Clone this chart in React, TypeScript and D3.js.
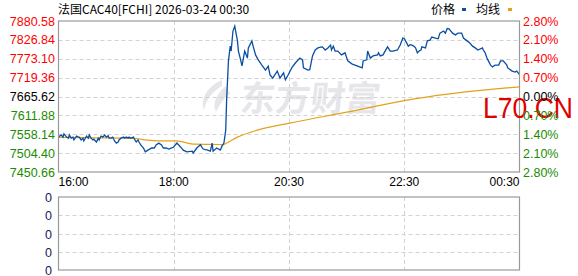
import React from "react";
import * as d3 from "d3";

const title = "法国CAC40[FCHI] 2026-03-24 00:30";
const prevClose = 7665.62;
const leftTicks = [7880.58, 7826.84, 7773.1, 7719.36, 7665.62, 7611.88, 7558.14, 7504.4, 7450.66];
const rightTicks = ["2.80%", "2.10%", "1.40%", "0.70%", "0.00%", "0.70%", "1.40%", "2.10%", "2.80%"];
const timeLabels = ["16:00", "18:00", "20:30", "22:30", "00:30"];
const timeLabelMinutes = [0, 127.5, 255, 382.5, 510];
const volumeLabels = ["0", "0", "0", "0", "0"];

// minutes since 16:00, price
const priceMinutes = [
  0, 3, 5, 6, 9, 11, 12, 14, 16, 17, 20, 22, 23, 25, 27, 28, 31, 33, 34, 36, 38, 39, 42, 44, 45, 47, 49, 51, 53, 55,
  56, 58, 60, 62, 64, 66, 67, 69, 72, 73, 75, 77, 78, 80, 83, 84, 86, 88, 89, 91, 94, 96, 99, 103, 106, 108, 111, 114,
  116, 119, 122, 124, 127, 131, 135, 138, 142, 148, 149, 153, 157, 160, 165, 168, 170, 171, 175, 179, 181, 183, 185,
  186, 188, 190, 191, 193, 195, 196, 198, 199, 201, 203, 204, 206, 209, 210, 214, 215, 218, 221, 225, 229, 232, 234,
  237, 242, 245, 249, 251, 254, 258, 262, 267, 270, 271, 276, 278, 281, 284, 287, 290, 292, 295, 298, 301, 302, 304,
  306, 309, 313, 317, 320, 325, 328, 331, 336, 337, 341, 342, 345, 348, 353, 354, 356, 359, 364, 367, 370, 375, 378,
  381, 383, 387, 389, 391, 393, 395, 397, 399, 401, 402, 406, 408, 411, 413, 417, 420, 422, 426, 428, 430, 432, 436,
  439, 442, 446, 448, 452, 455, 458, 461, 464, 469, 470, 472, 474, 475, 478, 480, 483, 487, 489, 492, 496, 497, 502,
  505, 507, 510,
];
const priceValues = [
  7550, 7556, 7550, 7559, 7550, 7547, 7556, 7547, 7550, 7542, 7553, 7550, 7550, 7542, 7547, 7539, 7553, 7547, 7556,
  7547, 7542, 7544, 7536, 7547, 7542, 7553, 7550, 7556, 7550, 7554, 7547, 7547, 7550, 7539, 7533, 7536, 7542, 7547,
  7550, 7547, 7550, 7547, 7550, 7547, 7550, 7544, 7536, 7542, 7536, 7528, 7519, 7508, 7513, 7519, 7519, 7528, 7533,
  7528, 7519, 7519, 7516, 7518, 7521, 7533, 7522, 7513, 7508, 7510, 7505, 7519, 7528, 7516, 7513, 7510, 7533, 7510,
  7519, 7513, 7525, 7533, 7570, 7656, 7767, 7809, 7795, 7852, 7866, 7852, 7824, 7795, 7775, 7753, 7767, 7795, 7775,
  7804, 7824, 7812, 7784, 7770, 7755, 7741, 7752, 7727, 7718, 7738, 7718, 7733, 7713, 7727, 7747, 7761, 7775, 7770,
  7747, 7741, 7742, 7781, 7798, 7804, 7806, 7807, 7798, 7804, 7812, 7798, 7809, 7795, 7795, 7784, 7790, 7767, 7758,
  7755, 7752, 7747, 7767, 7770, 7795, 7775, 7781, 7784, 7790, 7781, 7784, 7807, 7795, 7795, 7798, 7812, 7832, 7829,
  7809, 7813, 7812, 7809, 7804, 7790, 7795, 7798, 7807, 7804, 7824, 7826, 7835, 7832, 7830, 7846, 7852, 7846, 7859,
  7858, 7846, 7841, 7846, 7846, 7832, 7824, 7818, 7809, 7804, 7798, 7804, 7798, 7790, 7775, 7770, 7755, 7750, 7755,
  7755, 7767, 7767, 7755, 7747, 7738, 7735, 7738, 7728,
];

const avgMinutes = [0, 40, 86, 96, 112, 130, 151, 179, 182, 186, 198, 220, 256, 319, 392, 448, 510];
const avgValues = [7549, 7548, 7546, 7542, 7539, 7539, 7530, 7529, 7528, 7533, 7550, 7570, 7590, 7621, 7658, 7678, 7693];

const L = 58.5, R = 519.5, T = 21, B = 172;
const VT = 197, VB = 270;

export default function App() {
  const x = d3.scaleLinear().domain([0, 510]).range([L, R]);
  const y = d3.scaleLinear().domain([leftTicks[leftTicks.length - 1], leftTicks[0]]).range([B, T]);
  const vy = d3.scaleLinear().domain([0, 4]).range([VB, VT]);

  const priceData = priceMinutes.map((m, i) => [m, priceValues[i]] as [number, number]);
  const avgData = avgMinutes.map((m, i) => [m, avgValues[i]] as [number, number]);
  const line = d3.line<[number, number]>().x((d) => x(d[0])).y((d) => y(d[1]));
  const avgLine = d3
    .line<[number, number]>()
    .x((d) => x(d[0]))
    .y((d) => y(d[1]))
    .curve(d3.curveMonotoneX);

  const colorFor = (v: number) => (v > prevClose + 0.001 ? "#ff0000" : v < prevClose - 0.001 ? "#1a8c00" : "#000000");
  const font = "Liberation Sans, Arial, sans-serif";
  const gridColor = "#d2d2d2";
  const vGrid = [127.5, 255, 382.5];

  return (
    <svg
      width={578}
      height={276}
      style={{ position: "fixed", left: 0, top: 0, background: "#fff" }}
      xmlns="http://www.w3.org/2000/svg"
    >
      <rect x={0} y={0} width={578} height={276} fill="#fff" />
      {/* watermark */}
      <g fill="#e6e6ea" opacity={1}>
        <path d="M222 80 C208 86 200 98 204 110 C206 100 212 92 222 86 Z M226 86 C216 94 212 104 216 112 C220 104 224 98 230 94 Z" />
        <text
          x={240}
          y={111}
          fontSize={35}
          fontWeight="bold"
          fontFamily="Noto Sans CJK SC"
          transform="skewX(-6) translate(11,0)"
          textLength={140}
        >
          东方财富
        </text>
      </g>

      {/* grid main */}
      {leftTicks.slice(1, -1).map((v, i) => (
        <line key={"h" + i} x1={L} x2={R} y1={Math.round(y(v)) + 0.5} y2={Math.round(y(v)) + 0.5} stroke={gridColor} strokeDasharray="4,3" />
      ))}
      {vGrid.map((m, i) => (
        <line key={"v" + i} x1={Math.round(x(m)) + 0.5} x2={Math.round(x(m)) + 0.5} y1={T} y2={B} stroke={gridColor} strokeDasharray="4,3" />
      ))}
      {/* grid volume */}
      {[1, 2, 3].map((k) => (
        <line key={"vh" + k} x1={L} x2={R} y1={Math.round(vy(k)) + 0.5} y2={Math.round(vy(k)) + 0.5} stroke={gridColor} strokeDasharray="4,3" />
      ))}
      {vGrid.map((m, i) => (
        <line key={"vv" + i} x1={Math.round(x(m)) + 0.5} x2={Math.round(x(m)) + 0.5} y1={VT} y2={VB} stroke={gridColor} strokeDasharray="4,3" />
      ))}

      {/* avg line */}
      <path d={avgLine(avgData) || ""} fill="none" stroke="#e3a21a" strokeWidth={1.2} />
      {/* price line */}
      <path d={line(priceData) || ""} fill="none" stroke="#0a4fa3" strokeWidth={1.3} />

      {/* borders */}
      <rect x={L} y={T} width={R - L} height={B - T} fill="none" stroke="#999" strokeWidth={1.2} />
      <rect x={L} y={VT} width={R - L} height={VB - VT} fill="none" stroke="#999" strokeWidth={1.2} />

      {/* L70.CN */}
      <text x={483} y={118} fontSize={29} fontFamily={font} fill="#e00000" textLength={90} lengthAdjust="spacingAndGlyphs">
        L70.CN
      </text>

      {/* left axis */}
      {leftTicks.map((v, i) => (
        <text key={"l" + i} x={55} y={y(v)} dy="0.36em" textAnchor="end" fontSize={12.5} fontFamily={font} fill={colorFor(v)}>
          {v.toFixed(2)}
        </text>
      ))}
      {/* right axis */}
      {rightTicks.map((t, i) => (
        <text
          key={"r" + i}
          x={523}
          y={y(leftTicks[i])}
          dy="0.36em"
          fontSize={12.5}
          fontFamily={font}
          fill={colorFor(leftTicks[i])}
        >
          {t}
        </text>
      ))}
      {/* time axis */}
      {timeLabels.map((t, i) => (
        <text
          key={"t" + i}
          x={x(timeLabelMinutes[i])}
          y={186}
          textAnchor={i === 0 ? "start" : i === timeLabels.length - 1 ? "end" : "middle"}
          fontSize={12}
          fontFamily={font}
          fill="#000"
        >
          {t}
        </text>
      ))}
      {/* volume labels */}
      {volumeLabels.map((t, i) => (
        <text key={"vl" + i} x={52} y={vy(4 - i) + 0.5} dy="0.36em" textAnchor="end" fontSize={12.5} fontFamily={font} fill="#14205a">
          {t}
        </text>
      ))}

      {/* title */}
      <text x={58} y={14} fontSize={12} fontFamily="Noto Sans CJK SC, sans-serif" fill="#000">
        {title}
      </text>
      {/* legend */}
      <text x={431} y={14} fontSize={12} fontFamily="Noto Sans CJK SC, sans-serif" fill="#000">
        价格
      </text>
      <rect x={462} y={8} width={4} height={3} fill="#0a4fa3" />
      <text x={476} y={14} fontSize={12} fontFamily="Noto Sans CJK SC, sans-serif" fill="#000">
        均线
      </text>
      <rect x={508} y={8} width={4} height={3} fill="#e3a21a" />
    </svg>
  );
}
